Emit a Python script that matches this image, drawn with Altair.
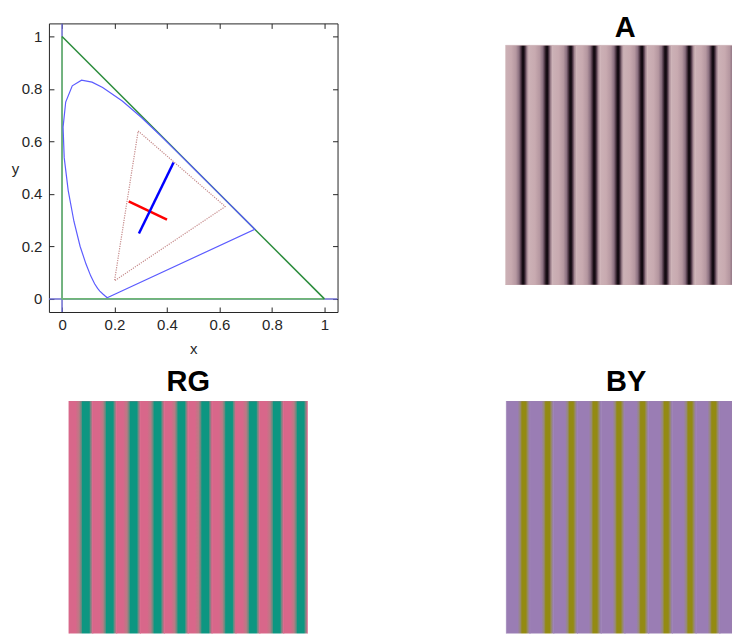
import altair as alt
import pandas as pd

# ---------------- chromaticity diagram data ----------------
locus_x = [0.1741, 0.1714, 0.1644, 0.1566, 0.1440, 0.1355, 0.1241, 0.1096, 0.0913,
           0.0687, 0.0454, 0.0235, 0.0082, 0.0039, 0.0139, 0.0389, 0.0743, 0.1142,
           0.1547, 0.2296, 0.3016, 0.3731, 0.4441, 0.5125, 0.5752, 0.6270, 0.6915,
           0.7260, 0.7347, 0.1741]
locus_y = [0.0050, 0.0051, 0.0109, 0.0177, 0.0297, 0.0399, 0.0578, 0.0868, 0.1327,
           0.2007, 0.2950, 0.4127, 0.5384, 0.6548, 0.7502, 0.8120, 0.8338, 0.8262,
           0.8059, 0.7543, 0.6923, 0.6245, 0.5547, 0.4866, 0.4242, 0.3725, 0.3083,
           0.2740, 0.2653, 0.0050]

vline_x = [0, 0]
vline_y = [-0.05, 1.05]
hline_x = [-0.05, 1.05]
hline_y = [0, 0]

legs_x = [0, 0, 1]
legs_y = [1, 0, 0]
diag_x = [1, 0]
diag_y = [0, 1]

gamut_x = [0.290, 0.622, 0.200, 0.290]
gamut_y = [0.640, 0.352, 0.069, 0.640]

red_x = [0.254, 0.400]
red_y = [0.372, 0.302]
blue_x = [0.293, 0.425]
blue_y = [0.249, 0.520]

tick_values = [0, 0.2, 0.4, 0.6, 0.8, 1]

# ---------------- grating data ----------------
cycle_start = [0, 1, 2, 3, 4, 5, 6, 7, 8, 9, 10]

a_offsets = [0.0, 0.25, 0.45, 0.58, 0.66, 0.72, 0.78, 0.84, 0.92, 1.0]
a_colors = ["#ccb1b6", "#c8aab0", "#b597a0", "#8a6f7f", "#4a3442", "#170d14",
            "#130a11", "#4e3746", "#a98d97", "#ccb1b6"]

rg_offsets = [0.0, 0.28, 0.43, 0.53, 0.57, 0.85, 0.90, 0.98, 1.0]
rg_colors = ["#d8678a", "#d8678a", "#b97a84", "#5e8d80", "#0d9681", "#0d9681",
             "#6a8b82", "#c46e88", "#d8678a"]

by_offsets = [0.0, 0.48, 0.59, 0.66, 0.82, 0.90, 0.97, 1.0]
by_colors = ["#9a7db4", "#9a7db4", "#968a78", "#938a12", "#938a12", "#968a6a",
             "#9a7fb0", "#9a7db4"]

FONT = "Liberation Sans"
INK = "#262626"

xs = alt.Scale(domain=[-0.05, 1.05], nice=False, zero=False)
ys = alt.Scale(domain=[-0.05, 1.05], nice=False, zero=False)


def line_df(xv, yv):
    return pd.DataFrame({"x": xv, "y": yv, "i": list(range(len(xv)))})


x_bottom = alt.Axis(values=tick_values, format="~g", orient="bottom", offset=-5,
                    tickSize=5, domain=False, grid=False, labelFontSize=15,
                    labelColor=INK, tickColor=INK, labelPadding=6, title="x",
                    titleFontSize=15, titleFontWeight="normal", titleColor=INK,
                    titlePadding=9)
y_left = alt.Axis(values=tick_values, format="~g", orient="left", offset=-5,
                  tickSize=5, domain=False, grid=False, labelFontSize=15,
                  labelColor=INK, tickColor=INK, labelPadding=7, title="y",
                  titleFontSize=15, titleFontWeight="normal", titleColor=INK,
                  titleAngle=0, titleAlign="center", titleBaseline="middle",
                  titleX=-39, titleY=145)
x_top = alt.Axis(values=tick_values, orient="top", offset=-5, tickSize=5,
                 domain=False, grid=False, labels=False, tickColor=INK, title=None)
y_right = alt.Axis(values=tick_values, orient="right", offset=-5, tickSize=5,
                   domain=False, grid=False, labels=False, tickColor=INK, title=None)


def lines(xv, yv, color, width, axes=None, dash=None):
    kw = dict(color=color, strokeWidth=width, clip=True)
    if dash is not None:
        kw["strokeDash"] = dash
    if axes == "main":
        ex = alt.X("x:Q", scale=xs, axis=x_bottom)
        ey = alt.Y("y:Q", scale=ys, axis=y_left)
    elif axes == "ticks":
        ex = alt.X("x:Q", scale=xs, axis=x_top)
        ey = alt.Y("y:Q", scale=ys, axis=y_right)
    else:
        ex = alt.X("x:Q", scale=xs, axis=None)
        ey = alt.Y("y:Q", scale=ys, axis=None)
    return alt.Chart(line_df(xv, yv)).mark_line(**kw).encode(x=ex, y=ey, order="i:Q")


diagram = alt.layer(
    lines(vline_x, vline_y, "#6b6bcf", 1.5, axes="main"),
    lines(hline_x, hline_y, "#6b6bcf", 1.5, axes="ticks"),
    lines(legs_x, legs_y, "#6fb776", 1.8),
    lines(diag_x, diag_y, "#2b8c3c", 1.5),
    lines(locus_x, locus_y, "#5c5cff", 1.2),
    lines(gamut_x, gamut_y, "#c58a8a", 1.2, dash=[1.2, 1.2]),
    lines(red_x, red_y, "#ff0000", 2.5),
    lines(blue_x, blue_y, "#0000ff", 2.5),
).properties(width=289, height=289,
             view=alt.ViewBackground(stroke=INK, strokeWidth=1))


def grating(offsets, colors, title, width, height, xrange, yrange, ncycles, tx, ty):
    df = pd.DataFrame({"x0": cycle_start,
                       "x1": [s + 1 for s in cycle_start],
                       "y0": [0] * len(cycle_start),
                       "y1": [1] * len(cycle_start)})
    grad = alt.LinearGradient(
        gradient="linear",
        stops=[alt.GradientStop(offset=o, color=c) for o, c in zip(offsets, colors)],
        x1=0, x2=1, y1=0, y2=0)
    rects = alt.Chart(df).mark_rect(fill=grad, clip=True, stroke=colors[0],
                                    strokeWidth=0.6).encode(
        x=alt.X("x0:Q", scale=alt.Scale(domain=[0, ncycles], range=xrange,
                                        nice=False, zero=False), axis=None),
        x2="x1:Q",
        y=alt.Y("y0:Q", scale=alt.Scale(domain=[0, 1], range=yrange, nice=False),
                axis=None),
        y2="y1:Q",
    )
    label = alt.Chart(pd.DataFrame({"t": [title]})).mark_text(
        font=FONT, fontSize=29, fontWeight="bold", color="#000000",
        align="center", baseline="alphabetic"
    ).encode(text="t:N", x=alt.value(tx), y=alt.value(ty))
    return alt.layer(rects, label).properties(width=width, height=height)


panel_a = grating(a_offsets, a_colors, "A", 227, 262, [0, 240], [262, 22], 10.1, 120, 14)
panel_rg = grating(rg_offsets, rg_colors, "RG", 259, 233, [20, 259], [239, 0], 10.0, 139.5, -10)
panel_by = grating(by_offsets, by_colors, "BY", 227, 233, [1, 241], [240, 0], 10.1, 121, -10)

chart = alt.concat(diagram, panel_a, panel_rg, panel_by, columns=2,
                   spacing={"row": 89, "column": 168}, bounds="flush").properties(
    padding={"left": 10, "top": 14, "right": 0, "bottom": 0}
).configure(font=FONT).configure_view(strokeWidth=0)

chart.save("out.html", embed_options={"renderer": "svg", "actions": False})
